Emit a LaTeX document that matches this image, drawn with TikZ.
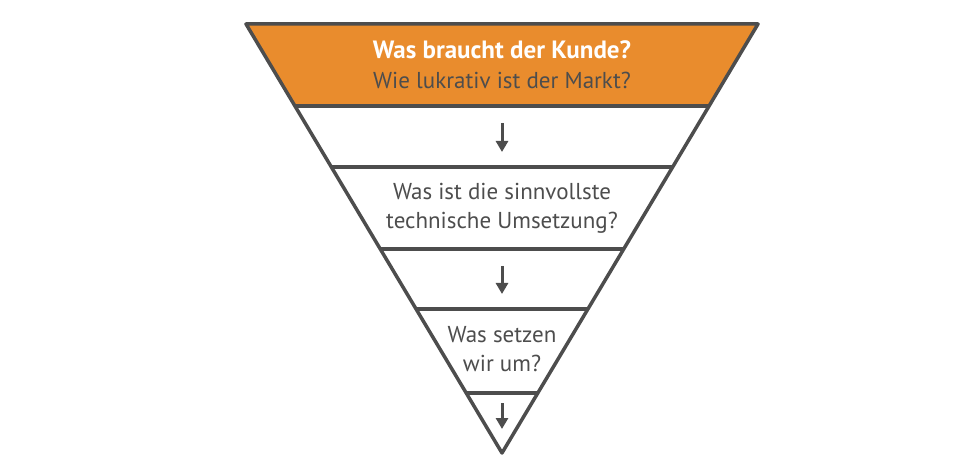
\documentclass[tikz,border=0pt]{standalone}
\usepackage{fontspec}
\setmainfont{PT Sans}
\usetikzlibrary{calc,arrows.meta}

\definecolor{funnelgray}{HTML}{4D4D4D}
\definecolor{funnelorange}{HTML}{E98C2D}

\begin{document}
\begin{tikzpicture}[
    x=1pt, y=-1pt,
    edge/.style={draw=funnelgray, line width=3.5pt, line join=round, line cap=round},
    band/.style={draw=funnelgray, line width=3.5pt},
    label/.style={text=funnelgray, align=center, font=\fontsize{23}{29}\selectfont},
    arrow/.style={-{Triangle[width=12pt,length=11pt]}, draw=funnelgray, fill=funnelgray, line width=3pt}
]
\useasboundingbox (0,0) rectangle (967,473);

% Eckpunkte des Trichters
\coordinate (tl) at (246,24);
\coordinate (tr) at (758,24);
\coordinate (ap) at (502,453);

% Oberes Feld
\fill[funnelorange] (tl) -- (tr) -- ($(tr)!0.1911!(ap)$) -- ($(tl)!0.1911!(ap)$) -- cycle;

% Trennlinien
\foreach \t in {0.1911,0.3333,0.5245,0.6643,0.8601}
  \draw[band] ($(tl)!\t!(ap)$) -- ($(tr)!\t!(ap)$);

% Umriss
\draw[edge] (tl) -- (tr) -- (ap) -- cycle;

% Texte
\node[label, font=\fontsize{25}{29}\selectfont\bfseries, text=white] (kunde) at (502,50) {Was braucht der Kunde?};
\node[label] (markt) at (502,80) {Wie lukrativ ist der Markt?};
\node[label] (technik) at (502,208) {Was ist die sinnvollste\\technische Umsetzung?};
\node[label] (umsetzen) at (502,349) {Was setzen\\wir um?};

% Pfeile
\coordinate (a1s) at (502,123); \coordinate (a1e) at (502,152);
\coordinate (a2s) at (502,266); \coordinate (a2e) at (502,294);
\coordinate (a3s) at (502,403); \coordinate (a3e) at (502,429);
\draw[arrow] (a1s) -- (a1e);
\draw[arrow] (a2s) -- (a2e);
\draw[arrow] (a3s) -- (a3e);
\end{tikzpicture}
\end{document}
